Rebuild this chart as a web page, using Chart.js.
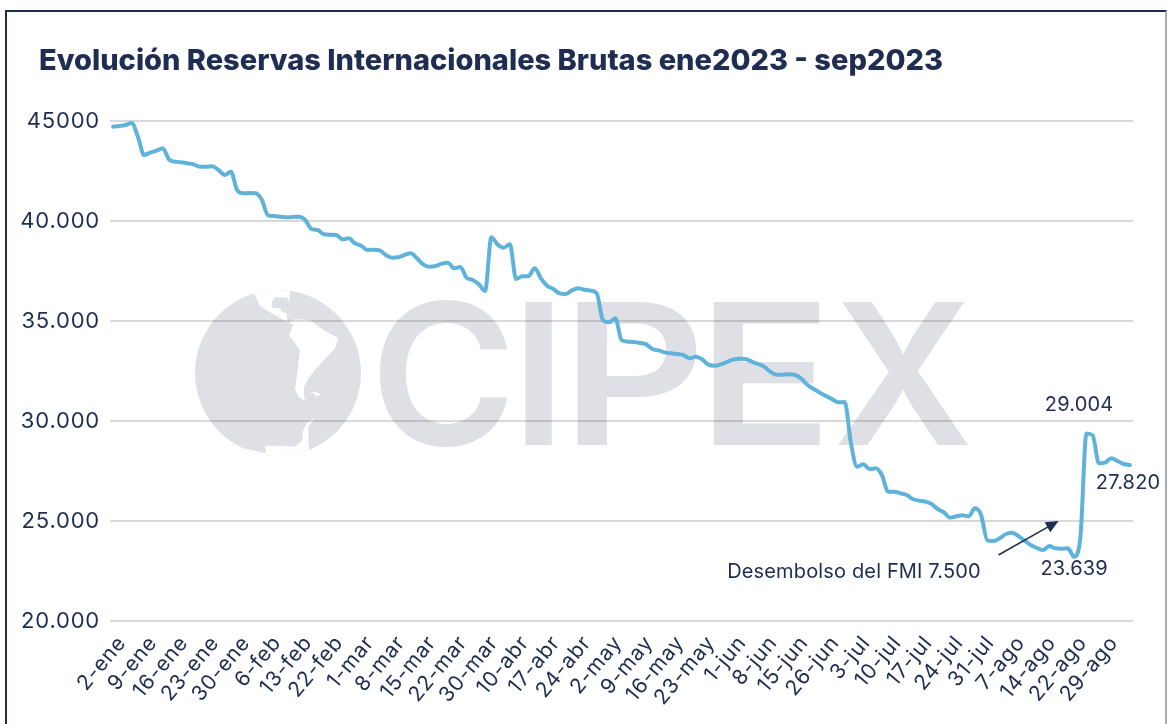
<!DOCTYPE html>
<html>
<head>
<meta charset="utf-8">
<title>Reservas Internacionales Brutas</title>
<script src="https://cdn.jsdelivr.net/npm/chart.js@4/dist/chart.umd.min.js"></script>
<style>
  html, body { margin: 0; padding: 0; background: #fff; overflow: hidden; }
  #page { position: relative; width: 1167px; height: 724px; overflow: hidden; }
  #frame { position: absolute; left: 5px; top: 10px; width: 1158px; height: 800px; border: 2px solid #1f2d52; border-right-color: #a9acb8; }
  #page h1 { position: absolute; left: 39px; top: 42px; margin: 0; font: 800 29px Inter, sans-serif; color: #1f2d52; white-space: nowrap; }
  canvas { position: absolute; left: 0; top: 0; }
</style>
</head>
<body>
<div id="page">
  <div id="frame"></div>
  <canvas id="my-chart" width="1167" height="724"></canvas>
  <h1>Evolución Reservas Internacionales Brutas ene2023 - sep2023</h1>
</div>
<script>
let tickdates = ['2-ene','9-ene','16-ene','23-ene','30-ene','6-feb','13-feb','22-feb','1-mar','8-mar','15-mar',
  '22-mar','30-mar','10-abr','17-abr','24-abr','2-may','9-may','16-may','23-may','1-jun','8-jun','15-jun',
  '26-jun','3-jul','10-jul','17-jul','24-jul','31-jul','7-ago','14-ago','22-ago','29-ago'];
let ylabels = ['20.000','25.000','30.000','35.000','40.000','45000'];

// reservas en millones (un valor por dia habil)
let reservas = [
  44717,44750,44800,44900,44217,43300,43417,43517,43633,43083,
  42967,42933,42883,42833,42717,42717,42733,42550,42300,42467,
  41550,41383,41400,41383,41050,40283,40250,40217,40183,40200,
  40217,40050,39600,39550,39333,39317,39300,39083,39133,38883,
  38767,38550,38567,38533,38300,38167,38183,38300,38383,38133,
  37833,37717,37750,37867,37917,37633,37700,37167,37050,36833,
  36500,39183,38833,38667,38833,37100,37233,37250,37633,37133,
  36767,36600,36383,36350,36533,36633,36567,36517,36383,35050,
  34933,35133,34050,33967,33950,33900,33833,33600,33533,33433,
  33383,33350,33300,33133,33217,33083,32817,32767,32833,32950,
  33067,33117,33100,32967,32850,32717,32467,32317,32317,32333,
  32300,32117,31800,31600,31417,31250,31083,30933,30950,28900,
  27717,27833,27600,27633,27300,26467,26467,26383,26300,26100,
  26017,25967,25850,25600,25433,25167,25233,25283,25233,25633,
  25300,24033,24000,24133,24350,24417,24250,24017,23800,23650,
  23550,23750,23633,23617,23633,23217,24133,29380,29280,27883,
  27917,28133,28000,27850,27800
];

let categories = reservas.map(function (v, i) {
  return i % 5 === 0 ? tickdates[i / 5] : '';
});

// etiquetas sobre el grafico, ubicadas por indice y valor
let notes = [
  { text: '29.004', index: 155.8, value: 30800 },
  { text: '27.820', index: 163.7, value: 26900 },
  { text: '23.639', index: 155, value: 22600 },
  { text: 'Desembolso del FMI 7.500', index: 119.5, value: 22450 }
];
let arrow = { fromIndex: 142.8, fromValue: 23300, toIndex: 152.5, toValue: 25000 };

let navy = '#1f2d52';
let markgray = '#dfe0e6';

function fitletter(ctx, letter, x0, x1, y0, y1) {
  ctx.save();
  ctx.font = '600 200px Inter, sans-serif';
  ctx.textAlign = 'left';
  ctx.textBaseline = 'alphabetic';
  let m = ctx.measureText(letter);
  let w = m.actualBoundingBoxRight + m.actualBoundingBoxLeft;
  let h = m.actualBoundingBoxAscent + m.actualBoundingBoxDescent;
  ctx.translate(x0, y0);
  ctx.scale((x1 - x0) / w, (y1 - y0) / h);
  ctx.fillText(letter, m.actualBoundingBoxLeft, m.actualBoundingBoxAscent);
  ctx.restore();
}

function shape(ctx, pts) {
  ctx.beginPath();
  for (let i = 0; i < pts.length; i += 2) {
    // coordenadas tomadas de un recorte del logo a 3x
    ctx.lineTo(180 + pts[i] / 3, 280 + pts[i + 1] / 3);
  }
  ctx.closePath();
  ctx.fill();
}

function drawglobe(ctx) {
  ctx.save();
  ctx.beginPath();
  ctx.arc(278, 373, 83, 0, Math.PI * 2);
  ctx.clip();
  ctx.fillStyle = markgray;
  ctx.fillRect(190, 285, 180, 180);
  ctx.fillStyle = '#fff';
  shape(ctx, [222,40,240,78,262,92,290,108,322,125,320,100,305,95,300,85,278,85,275,65,285,52,320,52,328,65,330,30,222,30]);
  shape(ctx, [325,125,345,118,390,120,430,150,475,175,465,205,440,232,410,265,385,295,372,320,372,345,375,362,355,350,345,325,352,280,360,210,345,190,327,165,340,135]);
  shape(ctx, [388,348,398,336,408,350,424,342,412,338,398,334]);
  shape(ctx, [405,412,380,430,368,455,368,480,345,500,300,497,255,497,258,520,225,512,190,505,190,560,390,560,388,515,385,480,385,440]);
  ctx.restore();
}

let watermark = {
  id: 'watermark',
  beforeDraw(chart) {
    chart.ctx.letterSpacing = '0.8px';
  },
  beforeDatasetsDraw(chart) {
    let ctx = chart.ctx;
    let grid = document.createElement('canvas');
    grid.width = chart.width;
    grid.height = chart.height;
    let g = grid.getContext('2d');
    drawglobe(g);
    g.fillStyle = markgray;
    fitletter(g, 'C', 380, 508, 300, 447);
    fitletter(g, 'I', 525, 552, 302, 445);
    fitletter(g, 'P', 577, 697, 302, 445);
    fitletter(g, 'E', 713, 820, 302, 445);
    fitletter(g, 'X', 838, 968, 302, 445);
    ctx.save();
    ctx.globalCompositeOperation = 'multiply';
    ctx.drawImage(grid, 0, 0);
    ctx.restore();
  },
  afterDatasetsDraw(chart) {
    let ctx = chart.ctx;
    let xs = chart.scales.x;
    let ys = chart.scales.y;
    ctx.save();
    ctx.fillStyle = navy;
    ctx.letterSpacing = '0.15px';
    ctx.font = '400 20px Inter, sans-serif';
    ctx.textAlign = 'center';
    ctx.textBaseline = 'middle';
    notes.forEach(function (n) {
      ctx.fillText(n.text, xs.getPixelForValue(n.index), ys.getPixelForValue(n.value));
    });
    let x0 = xs.getPixelForValue(arrow.fromIndex);
    let y0 = ys.getPixelForValue(arrow.fromValue);
    let x1 = xs.getPixelForValue(arrow.toIndex);
    let y1 = ys.getPixelForValue(arrow.toValue);
    let a = Math.atan2(y1 - y0, x1 - x0);
    ctx.strokeStyle = navy;
    ctx.lineWidth = 1.5;
    ctx.beginPath();
    ctx.moveTo(x0, y0);
    ctx.lineTo(x1 - 8 * Math.cos(a), y1 - 8 * Math.sin(a));
    ctx.stroke();
    ctx.beginPath();
    ctx.moveTo(x1, y1);
    ctx.lineTo(x1 - 14 * Math.cos(a - 0.42), y1 - 14 * Math.sin(a - 0.42));
    ctx.lineTo(x1 - 14 * Math.cos(a + 0.42), y1 - 14 * Math.sin(a + 0.42));
    ctx.closePath();
    ctx.fill();
    ctx.restore();
  }
};

let chartcontext = document.getElementById('my-chart').getContext('2d');

let chartConfig = {
  type: 'line',
  data: {
    labels: categories,
    datasets: [{
      label: 'Reservas Internacionales Brutas',
      data: reservas,
      borderColor: '#5fb3da',
      borderWidth: 4,
      pointRadius: 0,
      tension: 0.4,
      cubicInterpolationMode: 'monotone',
      borderCapStyle: 'round',
      borderJoinStyle: 'round'
    }]
  },
  options: {
    responsive: false,
    animation: false,
    layout: { padding: { top: 121, right: 34, left: 0, bottom: 0 } },
    plugins: { legend: { display: false }, title: { display: false }, tooltip: { enabled: false } },
    scales: {
      x: {
        offset: true,
        afterFit(scale) { scale.height = 103; },
        grid: { display: false },
        border: { display: false },
        ticks: {
          autoSkip: false,
          minRotation: 50,
          maxRotation: 50,
          padding: 2,
          labelOffset: 9,
          color: navy,
          font: { family: 'Inter, sans-serif', size: 21 }
        }
      },
      y: {
        min: 20000,
        max: 45000,
        afterFit(scale) { scale.width = 110; },
        grid: { color: '#d9d9d9', lineWidth: 2, drawTicks: false },
        border: { display: false },
        ticks: {
          stepSize: 5000,
          padding: 10,
          color: navy,
          font: { family: 'Inter, sans-serif', size: 22 },
          callback: function (value) { return ylabels[(value - 20000) / 5000]; }
        }
      }
    }
  },
  plugins: [watermark]
};

let mychart = new Chart(chartcontext, chartConfig);
</script>
</body>
</html>
